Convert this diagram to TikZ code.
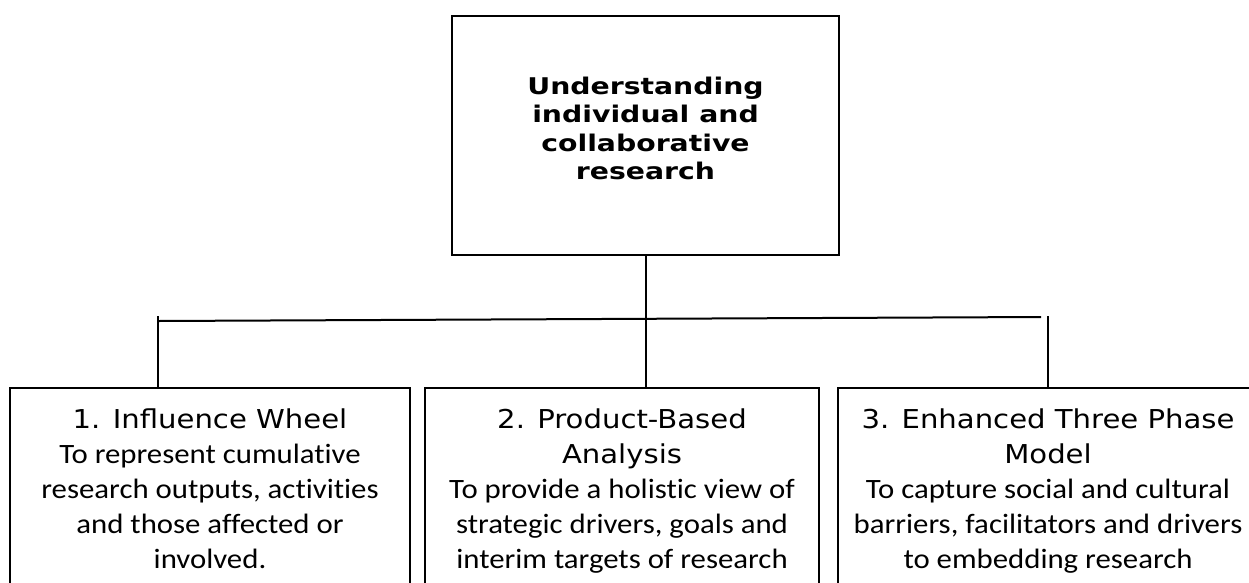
\documentclass[tikz,border=0pt]{standalone}
\usepackage{fontspec}
\usepackage{tikz}
\newfontfamily\titlefont[FakeStretch=1.23]{DejaVu Sans}
\newfontfamily\phasefont[FakeStretch=1.12]{DejaVu Sans}
\newfontfamily\notefont[FakeStretch=1.1,Ligatures=CommonOff]{Carlito}
\newcommand\phase[1]{{\phasefont\fontsize{26}{35}\selectfont #1}}

\begin{document}
\begin{tikzpicture}[x=1pt,y=-1pt,line width=2pt]
  \tikzstyle{goal}=[draw,align=center,minimum width=387pt,minimum height=239pt,
    text depth=14.7pt,inner sep=0pt,font=\titlefont\bfseries\fontsize{23}{28.5}\selectfont]
  \tikzstyle{method}=[draw,anchor=north,align=center,inner xsep=4pt,inner ysep=21pt,
    font=\notefont\fontsize{28}{35}\selectfont]

  \useasboundingbox (0,0) rectangle (1249,582);
  \clip (0,0) rectangle (1249,582);

  \node[goal] (top) at (645.5,135.5) {Understanding\\individual and\\collaborative\\research};

  \node[method,minimum width=400pt] (wheel)   at (210,387)
    {\phase{1. Influence Wheel}\\To represent cumulative\\research outputs, activities\\and those affected or\\involved.};
  \node[method,minimum width=394pt] (product) at (622,387)
    {\phase{2. Product-Based}\\\phase{Analysis}\\To provide a holistic view of\\strategic drivers, goals and\\interim targets of research};
  \node[method,minimum width=420pt] (model)   at (1048,387)
    {\phase{3. Enhanced Three Phase}\\\phase{Model}\\To capture social and cultural\\barriers, facilitators and drivers\\to embedding research};

  % tree lines
  \coordinate (barL) at (158,321);
  \coordinate (barR) at (1041,317);
  \coordinate (dropR) at (1048,316);
  \draw (top.south) -- (top.south |- product.north);
  \draw (barL) -- (barR);
  \draw ([yshift=5pt]barL) -- (barL |- wheel.north);
  \draw (dropR) -- (dropR |- model.north);
\end{tikzpicture}
\end{document}
